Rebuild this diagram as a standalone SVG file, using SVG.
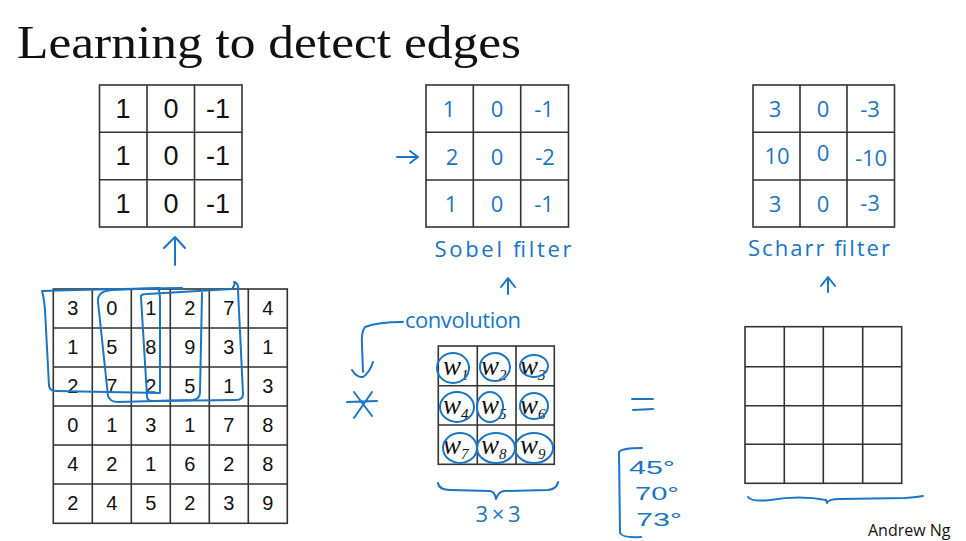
<svg xmlns="http://www.w3.org/2000/svg" width="966" height="541" viewBox="0 0 966 541">
<defs>
<style>
.grid{fill:none;stroke:#333;stroke-width:1.6}
.num{font-family:"Liberation Sans","Open Sans",sans-serif;fill:#111;text-anchor:middle}
.big{font-size:27px}
.mid{font-size:20px}
.hand{font-family:"Open Sans","DejaVu Sans",sans-serif;fill:#1a75c4;text-anchor:middle;font-size:22px}
.ang{font-family:"Liberation Sans","DejaVu Sans",sans-serif;fill:#1a75c4;text-anchor:middle;font-size:18px}
.pen{fill:none;stroke:#1a75c4;stroke-width:2;stroke-linecap:round;stroke-linejoin:round}
.w{font-family:"Liberation Serif","DejaVu Serif",serif;font-style:italic;font-size:27px;fill:#111}
</style>
</defs>
<rect width="966" height="541" fill="#fff"/>
<text x="17" y="58" font-family="Liberation Serif,DejaVu Serif,serif" font-size="46" textLength="504" lengthAdjust="spacingAndGlyphs" fill="#111">Learning to detect edges</text>

<g id="vertical-filter">
<rect class="grid" x="99.5" y="85" width="142.5" height="142"/>
<path class="grid" d="M147 85V227M194.5 85V227M99.5 132.3H242M99.5 179.7H242"/>
<g class="num big">
<text x="123" y="118">1</text><text x="171" y="118">0</text><text x="218" y="118">-1</text>
<text x="123" y="165">1</text><text x="171" y="165">0</text><text x="218" y="165">-1</text>
<text x="123" y="213">1</text><text x="171" y="213">0</text><text x="218" y="213">-1</text>
</g>
</g>

<g id="sobel-filter">
<rect class="grid" x="426" y="85" width="142.5" height="142"/>
<path class="grid" d="M473.3 85V227M520.7 85V227M426 132.3H568.5M426 180H568.5"/>
<g class="hand">
<text x="449" y="117">1</text><text x="497" y="117">0</text><text x="544" y="117">-1</text>
<text x="452" y="165">2</text><text x="497" y="165">0</text><text x="545" y="165">-2</text>
<text x="451" y="212">1</text><text x="497" y="212">0</text><text x="544" y="212">-1</text>
</g>
<text class="hand" x="503" y="257" textLength="137" lengthAdjust="spacing">Sobel filter</text>
</g>

<g id="scharr-filter">
<rect class="grid" x="753" y="85" width="141.5" height="142"/>
<path class="grid" d="M800 85V227M847 85V227M753 132.3H894.5M753 180H894.5"/>
<g class="hand">
<text x="775" y="117">3</text><text x="823" y="117">0</text><text x="870" y="117">-3</text>
<text x="777" y="164">10</text><text x="823" y="161">0</text><text x="871" y="166">-10</text>
<text x="775" y="212">3</text><text x="823" y="212">0</text><text x="870" y="211">-3</text>
</g>
<text class="hand" x="819" y="256" textLength="142" lengthAdjust="spacing">Scharr filter</text>
</g>

<g id="input-image">
<rect class="grid" x="53.3" y="289" width="234" height="234.3"/>
<path class="grid" d="M92.3 289V523.3M131.3 289V523.3M170.3 289V523.3M209.3 289V523.3M248.3 289V523.3M53.3 328H287.3M53.3 367H287.3M53.3 406H287.3M53.3 445H287.3M53.3 484H287.3"/>
<g class="num mid">
<text x="72.8" y="315">3</text><text x="111.8" y="315">0</text><text x="150.8" y="315">1</text><text x="189.8" y="315">2</text><text x="228.8" y="315">7</text><text x="267.8" y="315">4</text>
<text x="72.8" y="354">1</text><text x="111.8" y="354">5</text><text x="150.8" y="354">8</text><text x="189.8" y="354">9</text><text x="228.8" y="354">3</text><text x="267.8" y="354">1</text>
<text x="72.8" y="393">2</text><text x="111.8" y="393">7</text><text x="150.8" y="393">2</text><text x="189.8" y="393">5</text><text x="228.8" y="393">1</text><text x="267.8" y="393">3</text>
<text x="72.8" y="432">0</text><text x="111.8" y="432">1</text><text x="150.8" y="432">3</text><text x="189.8" y="432">1</text><text x="228.8" y="432">7</text><text x="267.8" y="432">8</text>
<text x="72.8" y="471">4</text><text x="111.8" y="471">2</text><text x="150.8" y="471">1</text><text x="189.8" y="471">6</text><text x="228.8" y="471">2</text><text x="267.8" y="471">8</text>
<text x="72.8" y="510">2</text><text x="111.8" y="510">4</text><text x="150.8" y="510">5</text><text x="189.8" y="510">2</text><text x="228.8" y="510">3</text><text x="267.8" y="510">9</text>
</g>
<path class="pen" d="M42 291 Q44 298 45 310 L49 386 Q50 391 56 391 L160 393 M42 291 Q110 289 182 288 M158 288 Q160 292 160 300 L160 392"/>
<path class="pen" d="M98 302 Q97 291 112 290 L160 288 M98 302 L108 396 Q110 402 118 402 L193 400 Q200 399 200 392 L202 293"/>
<path class="pen" d="M141 297 Q140 294 147 294 L232 289 Q236 283 234 282 Q239 283 238 290 L243 394 Q243 400 236 400 L152 401 Q147 401 147 396 L141 297"/>
</g>

<g id="weights">
<rect class="grid" x="438.3" y="346" width="116" height="118.3"/>
<path class="grid" d="M477.3 346V464.3M516 346V464.3M438.3 385.7H554.3M438.3 425H554.3"/>
<g class="w">
<text x="443" y="375">w<tspan font-size="15" dy="5">1</tspan></text>
<text x="481" y="375">w<tspan font-size="15" dy="5">2</tspan></text>
<text x="520" y="375">w<tspan font-size="15" dy="5">3</tspan></text>
<text x="443" y="414">w<tspan font-size="15" dy="5">4</tspan></text>
<text x="481" y="414">w<tspan font-size="15" dy="5">5</tspan></text>
<text x="520" y="414">w<tspan font-size="15" dy="5">6</tspan></text>
<text x="443" y="454">w<tspan font-size="15" dy="5">7</tspan></text>
<text x="481" y="454">w<tspan font-size="15" dy="5">8</tspan></text>
<text x="520" y="454">w<tspan font-size="15" dy="5">9</tspan></text>
</g>
<g class="pen">
<ellipse cx="453" cy="368" rx="16" ry="15"/>
<ellipse cx="495" cy="367" rx="15" ry="14"/>
<ellipse cx="534" cy="366" rx="14" ry="11"/>
<ellipse cx="457" cy="407" rx="17" ry="15"/>
<ellipse cx="490" cy="407" rx="13" ry="15"/>
<ellipse cx="534" cy="406" rx="14" ry="13"/>
<ellipse cx="460" cy="448" rx="17" ry="15"/>
<ellipse cx="496" cy="448" rx="19" ry="15"/>
<ellipse cx="534" cy="448" rx="19" ry="15"/>
</g>
<path class="pen" d="M438 483 Q439 490 450 490 L490 491 Q495 492 496 499 Q498 492 504 491 L548 490 Q557 489 558 482"/>
<text class="hand" x="498" y="522" font-size="20" textLength="45" lengthAdjust="spacing">3×3</text>
</g>

<g id="output">
<rect class="grid" x="745" y="326.7" width="156.7" height="156.6"/>
<path class="grid" d="M784.3 326.7V483.3M823.3 326.7V483.3M862.7 326.7V483.3M745 366.7H901.7M745 405.7H901.7M745 444.3H901.7"/>
<path class="pen" d="M748 497 Q752 502 770 500 Q800 495 826 500 L827 503 Q828 499 840 499 L905 498 Q918 497 923 496"/>
</g>

<g id="angles">
<path class="pen" d="M642 448 Q622 448 619 452 L620 533 Q622 538 641 537"/>
<text class="ang" x="652" y="474" textLength="46" lengthAdjust="spacingAndGlyphs">45°</text>
<text class="ang" x="657" y="500" textLength="44" lengthAdjust="spacingAndGlyphs">70°</text>
<text class="ang" x="659" y="526" textLength="46" lengthAdjust="spacingAndGlyphs">73°</text>
</g>

<g id="labels">
<text class="hand" x="463" y="328" font-size="18" textLength="116" lengthAdjust="spacing">convolution</text>
<text x="868" y="536" font-family="Open Sans,Liberation Sans,sans-serif" font-size="16" fill="#111">Andrew Ng</text>
</g>

<g id="connectors">
<path class="pen" d="M175 265 L175 238 M164 248 L175 237 L185 248"/>
<path class="pen" d="M508 294 L508 279 M501 287 L508 278 L515 287"/>
<path class="pen" d="M828 292 L828 278 M821 286 L828 277 L835 286"/>
<path class="pen" d="M397 157 L416 157 M410 151 L418 157 L410 163"/>
<path class="pen" d="M403 322 Q378 322 365 327 Q361 332 362 345 L363 372 M352 370 Q357 378 363 377 Q370 372 373 362"/>
<path class="pen" d="M347 402 L377 401 M354 392 L372 416 M372 392 L354 418"/>
<path class="pen" d="M632 399 L653 399 M633 410 L653 409"/>
</g>
</svg>
